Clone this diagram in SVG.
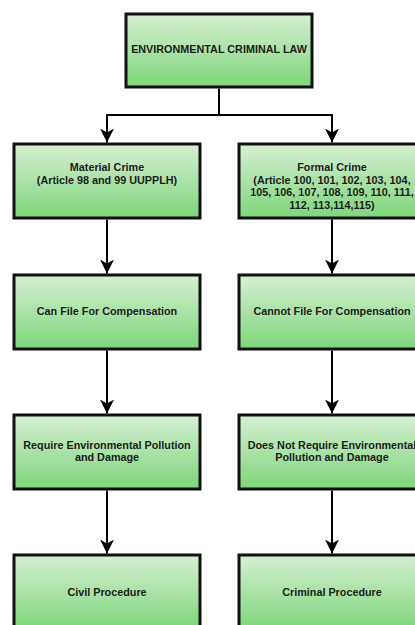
<svg xmlns="http://www.w3.org/2000/svg" width="415" height="625" viewBox="0 0 415 625">
  <defs>
    <linearGradient id="g" x1="0" y1="0" x2="0" y2="1">
      <stop offset="0" stop-color="#d6efd3"/>
      <stop offset="1" stop-color="#7ed67a"/>
    </linearGradient>
    <marker id="arr" viewBox="0 0 14 14" refX="14" refY="7" markerWidth="14" markerHeight="14" markerUnits="userSpaceOnUse" orient="auto">
      <path d="M0,0 L14,7 L0,14 L4,7 Z" fill="#000"/>
    </marker>
  </defs>
  <style>
    .box { fill: url(#g); stroke: #111; stroke-width: 3; }
    .t { font-family: "Liberation Sans", Arial, sans-serif; font-weight: bold; font-size: 10.8px; fill: #1c1c1c; text-anchor: middle; }
    .c { fill: none; stroke: #000; stroke-width: 2; }
    .a { fill: none; stroke: #000; stroke-width: 2; marker-end: url(#arr); }
  </style>
  <rect width="415" height="625" fill="#fff"/>

  <g id="connectors">
    <path class="c" d="M219 88.5 V115"/>
    <path class="c" d="M107 115 H332"/>
    <path class="a" d="M107 114 V142.5"/>
    <path class="a" d="M332 114 V142.5"/>
    <path class="a" d="M107 219.5 V273.5"/>
    <path class="a" d="M332 219.5 V273.5"/>
    <path class="a" d="M107 350.5 V413.5"/>
    <path class="a" d="M332 350.5 V413.5"/>
    <path class="a" d="M107 490.5 V553.5"/>
    <path class="a" d="M332 490.5 V553.5"/>
  </g>

  <g id="n-root">
    <rect class="box" x="126" y="14" width="186" height="73"/>
    <text class="t" x="219" y="53">ENVIRONMENTAL CRIMINAL LAW</text>
  </g>

  <g id="n-material">
    <rect class="box" x="14" y="144" width="186" height="74"/>
    <text class="t" x="107" y="171">Material Crime</text>
    <text class="t" x="107" y="183.5">(Article 98 and 99 UUPPLH)</text>
  </g>

  <g id="n-formal">
    <rect class="box" x="239" y="144" width="186" height="74"/>
    <text class="t" x="332" y="171">Formal Crime</text>
    <text class="t" x="332" y="183.5">(Article 100, 101, 102, 103, 104,</text>
    <text class="t" x="332" y="196">105, 106, 107, 108, 109, 110, 111,</text>
    <text class="t" x="332" y="208.5">112, 113,114,115)</text>
  </g>

  <g id="n-can-file">
    <rect class="box" x="14" y="275" width="186" height="74"/>
    <text class="t" x="107" y="315">Can File For Compensation</text>
  </g>

  <g id="n-cannot-file">
    <rect class="box" x="239" y="275" width="186" height="74"/>
    <text class="t" x="332" y="315">Cannot File For Compensation</text>
  </g>

  <g id="n-require">
    <rect class="box" x="14" y="415" width="186" height="74"/>
    <text class="t" x="107" y="449">Require Environmental Pollution</text>
    <text class="t" x="107" y="461">and Damage</text>
  </g>

  <g id="n-not-require">
    <rect class="box" x="239" y="415" width="186" height="74"/>
    <text class="t" x="332" y="449">Does Not Require Environmental</text>
    <text class="t" x="332" y="461">Pollution and Damage</text>
  </g>

  <g id="n-civil">
    <rect class="box" x="14" y="555" width="186" height="74"/>
    <text class="t" x="107" y="596">Civil Procedure</text>
  </g>

  <g id="n-criminal">
    <rect class="box" x="239" y="555" width="186" height="74"/>
    <text class="t" x="332" y="596">Criminal Procedure</text>
  </g>
</svg>
